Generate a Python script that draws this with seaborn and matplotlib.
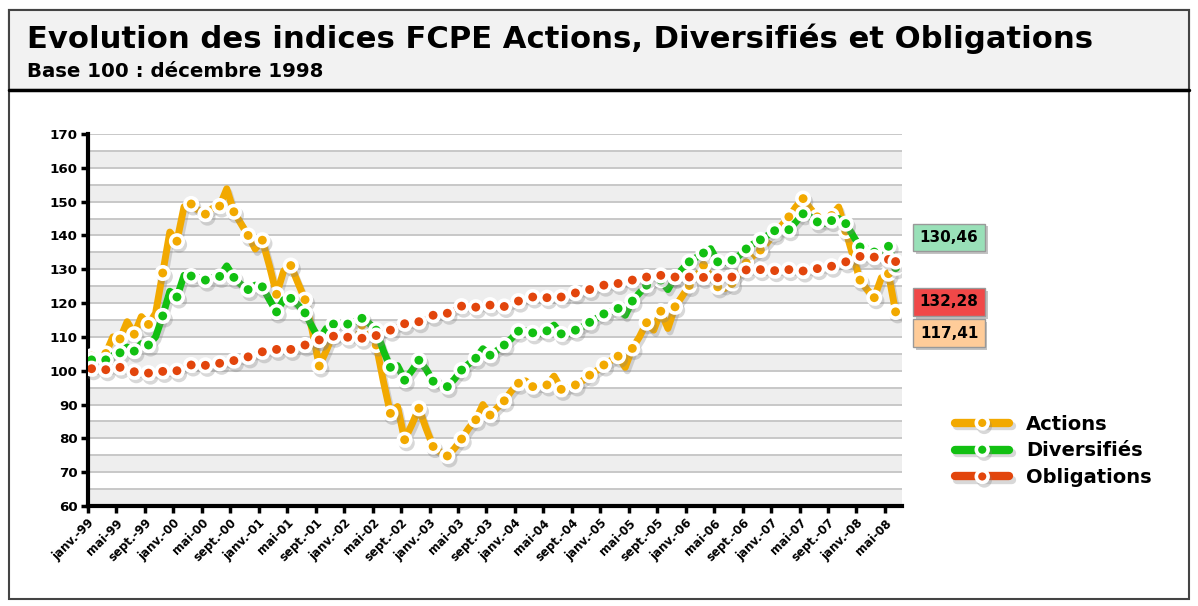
import numpy as np
import pandas as pd
import matplotlib
matplotlib.use("Agg")
import matplotlib.pyplot as plt
import matplotlib.patheffects as pe
from matplotlib.lines import Line2D
from matplotlib.patches import Rectangle
import seaborn as sns

# monthly index values, janv.-99 -> juin-08
actions = [104.3, 104.5, 105.1, 110.0, 109.4, 114.5, 110.8, 116.0, 113.7, 117.0,
           128.9, 141.0, 138.3, 148.5, 149.3, 147.5, 146.3, 148.0, 148.7, 153.8,
           147.0, 143.5, 140.0, 136.0, 138.6, 131.0, 122.6, 129.5, 131.1, 126.0,
           121.0, 112.0, 101.4, 106.0, 111.0, 112.0, 112.0, 112.0, 113.5, 112.0,
           107.6, 97.0, 87.4, 89.4, 79.6, 84.0, 88.9, 83.0, 77.6, 76.0,
           74.8, 77.0, 79.8, 83.0, 85.5, 90.0, 86.9, 89.0, 91.1, 94.0,
           96.3, 97.0, 95.3, 95.5, 95.8, 98.4, 94.5, 95.0, 95.8, 97.0,
           98.7, 100.0, 101.7, 103.0, 104.3, 101.0, 106.6, 110.0, 114.2, 112.0,
           117.6, 112.5, 118.9, 122.0, 125.2, 128.0, 131.2, 128.0, 124.8, 124.3,
           125.8, 128.5, 131.9, 134.0, 135.7, 138.0, 140.5, 143.0, 145.5, 148.5,
           150.9, 148.0, 145.5, 144.5, 145.9, 148.4, 141.3, 134.0, 126.8, 124.0,
           121.6, 127.5, 128.7, 117.41]

diversifies = [103.2, 103.0, 103.2, 104.5, 105.3, 107.0, 105.8, 108.0, 107.6, 110.0,
               116.2, 123.5, 121.8, 128.2, 128.0, 127.5, 126.8, 127.5, 127.9, 131.0,
               127.6, 125.5, 124.0, 125.3, 124.8, 121.0, 117.4, 121.0, 121.4, 119.5,
               117.1, 113.0, 109.3, 112.5, 113.8, 114.0, 113.8, 114.5, 115.5, 114.0,
               112.0, 106.0, 101.0, 101.5, 97.2, 100.0, 103.1, 100.5, 96.9, 96.0,
               95.3, 97.5, 100.2, 102.0, 103.7, 106.5, 104.6, 106.0, 107.6, 109.5,
               111.7, 111.8, 111.2, 111.0, 111.8, 113.5, 110.9, 111.0, 112.0, 113.0,
               114.3, 115.5, 116.8, 117.5, 118.4, 116.4, 120.6, 123.0, 125.3, 126.5,
               126.8, 124.0, 127.7, 130.0, 132.2, 133.5, 134.8, 136.1, 132.2, 132.0,
               132.7, 134.0, 136.0, 137.5, 138.7, 140.0, 141.4, 141.5, 141.7, 144.0,
               146.4, 145.5, 144.0, 143.5, 144.4, 145.0, 143.5, 140.0, 136.6, 134.5,
               135.1, 135.5, 136.8, 130.46]

obligations = [100.6, 100.4, 100.3, 100.7, 101.0, 100.3, 99.7, 99.5, 99.3, 99.5,
               99.8, 99.9, 100.0, 100.9, 101.7, 101.6, 101.6, 101.9, 102.2, 102.6,
               103.0, 103.5, 104.1, 104.9, 105.6, 106.0, 106.3, 106.3, 106.3, 107.0,
               107.6, 108.4, 109.1, 109.7, 110.2, 110.0, 109.9, 109.7, 109.6, 110.0,
               110.4, 111.2, 112.0, 113.0, 113.9, 114.2, 114.5, 115.5, 116.4, 116.7,
               117.0, 118.0, 119.1, 119.0, 118.8, 119.1, 119.4, 119.2, 119.0, 119.8,
               120.6, 121.2, 121.8, 121.7, 121.6, 121.7, 121.8, 122.4, 123.0, 123.5,
               124.0, 124.6, 125.3, 125.5, 125.8, 126.3, 126.8, 127.2, 127.7, 128.0,
               128.2, 128.0, 127.7, 127.7, 127.7, 127.6, 127.6, 127.5, 127.5, 127.6,
               127.7, 128.8, 129.8, 129.9, 129.9, 129.7, 129.6, 129.8, 129.9, 129.7,
               129.5, 129.9, 130.2, 130.5, 130.9, 131.5, 132.2, 133.0, 133.8, 133.7,
               133.6, 133.2, 132.9, 132.28]

series_names = ["Actions", "Diversifiés", "Obligations"]
series_colors = ["#f2a900", "#12c012", "#e2450c"]
last_labels = ["117,41", "130,46", "132,28"]
box_colors = ["#ffcc99", "#99e0b8", "#f04848"]

tick_months = ["janv.", "mai", "sept."]
years = list(range(1999, 2009))

months = np.arange(len(actions))
df = pd.DataFrame({"mois": months, "Actions": actions,
                   "Diversifiés": diversifies, "Obligations": obligations})

sns.set_style("white")
plt.rcParams["font.family"] = ["DejaVu Sans"]
plt.rcParams["font.weight"] = "bold"
plt.rcParams["text.color"] = "black"

fig = plt.figure(figsize=(11.98, 6.06), dpi=100)

# frame + header
fig.patches.append(Rectangle((9 / 1198, 0.012), 1 - 18 / 1198, 1 - 10 / 606 - 0.012,
                             transform=fig.transFigure, fill=False,
                             edgecolor="#444444", lw=1.5))
fig.patches.append(Rectangle((9 / 1198, 1 - 90 / 606), 1 - 18 / 1198, 80 / 606,
                             transform=fig.transFigure, facecolor="#f2f2f2",
                             edgecolor="#444444", lw=1.5))
fig.add_artist(Line2D([9 / 1198, 1 - 9 / 1198], [1 - 90 / 606] * 2,
                      transform=fig.transFigure, color="black", lw=2.5))
fig.text(27 / 1198, 1 - 48 / 606, "Evolution des indices FCPE Actions, Diversifiés et Obligations",
         fontsize=22.1, fontweight="bold", color="black", va="baseline")
fig.text(27 / 1198, 1 - 77 / 606, "Base 100 : décembre 1998",
         fontsize=14.2, fontweight="bold", color="black", va="baseline")

ax = fig.add_axes([88 / 1198, 1 - 506 / 606, (902 - 88) / 1198, (506 - 134) / 606])

# alternate bands and grid lines every 5
for y0 in range(60, 170, 10):
    ax.axhspan(y0, y0 + 5, color="#eeeeee", zorder=0, lw=0)
for y0 in range(60, 175, 5):
    ax.axhline(y0, color="#c4c4c4", lw=1.3, zorder=0.5)

shadow = [pe.SimpleLineShadow(offset=(1.5, -2.5), shadow_color="#808080", alpha=0.3),
          pe.Normal()]
marks = list(range(0, len(months), 2)) + [len(months) - 1]
widths = [5.0, 5.0, 3.5]

for name, col, w in zip(series_names, series_colors, widths):
    sns.lineplot(data=df, x="mois", y=name, ax=ax, color=col, lw=w,
                 marker="o", markersize=9, markerfacecolor=col,
                 markeredgecolor="white", markeredgewidth=2.6,
                 markevery=marks, path_effects=shadow, zorder=3)

ax.set_xlim(-0.5, 113.9)
ax.set_ylim(60, 170)
ax.set_yticks(range(60, 171, 10))
ax.set_yticklabels([str(v) for v in range(60, 171, 10)], fontsize=9.6,
                   fontweight="bold", color="black")

tick_pos = []
tick_lab = []
for i, m in enumerate(range(0, 113, 4)):
    tick_pos.append(m - 0.5)
    tick_lab.append("%s-%02d" % (tick_months[i % 3], years[m // 12] % 100))
ax.set_xticks(tick_pos)
ax.set_xticklabels(tick_lab, rotation=45, ha="right", rotation_mode="anchor",
                   fontsize=8.5, fontweight="bold", color="black")
ax.tick_params(axis="both", direction="out", length=5, width=2.5, color="black",
               pad=2.5, left=True, bottom=True)
ax.set_xlabel("")
ax.set_ylabel("")
for s in ["top", "right"]:
    ax.spines[s].set_visible(False)
for s in ["left", "bottom"]:
    ax.spines[s].set_color("black")
    ax.spines[s].set_linewidth(3)
ax.set_facecolor("white")
if ax.get_legend():
    ax.get_legend().remove()

# final value boxes
box_y = [333, 237.5, 302]
for lab, bc, yy in zip(last_labels, box_colors, box_y):
    t = fig.text(949 / 1198, 1 - yy / 606, lab, fontsize=11, fontweight="bold",
                 ha="center", va="center", color="black",
                 bbox=dict(boxstyle="square,pad=0.42", facecolor=bc,
                           edgecolor="#999999", lw=1))
    t.get_bbox_patch().set_path_effects([pe.withSimplePatchShadow(offset=(2, -2),
                                                                   shadow_rgbFace="#888888",
                                                                   alpha=0.5)])

# legend
handles = [Line2D([0], [0], color=c, lw=6, marker="o", markersize=8.5,
                  markerfacecolor=c, markeredgecolor="white", markeredgewidth=2.6,
                  solid_capstyle="round", path_effects=shadow)
           for c in series_colors]
leg = fig.legend(handles, series_names, loc="center left",
                 bbox_to_anchor=(955 / 1198, 1 - 451 / 606), frameon=False,
                 prop={"size": 14, "weight": "bold"}, handlelength=2.8,
                 labelspacing=0.4, handletextpad=0.85, borderpad=0, borderaxespad=0)
for txt in leg.get_texts():
    txt.set_color("black")

fig.savefig("out.png", dpi=100)
